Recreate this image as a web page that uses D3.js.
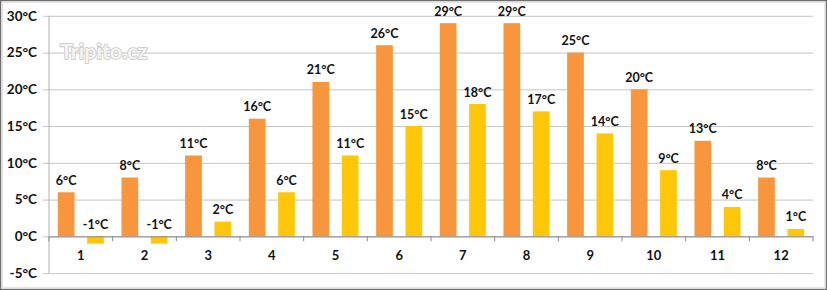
<!DOCTYPE html>
<html>
<head>
<meta charset="utf-8">
<script src="https://cdn.jsdelivr.net/npm/d3@7"></script>
<style>
  html, body { margin: 0; padding: 0; background: #fff; }
  svg { display: block; }
</style>
</head>
<body>
<script>
// monthly temperatures (day high / night low)
let months = ["1", "2", "3", "4", "5", "6", "7", "8", "9", "10", "11", "12"];
let dayTemps = [6, 8, 11, 16, 21, 26, 29, 29, 25, 20, 13, 8];
let nightTemps = [-1, -1, 2, 6, 11, 15, 18, 17, 14, 9, 4, 1];
let yTicks = [-5, 0, 5, 10, 15, 20, 25, 30];
let seriesNames = ["day", "night"];
let seriesColors = ["#F7963C", "#FFC70A"];

let width = 827, height = 290;

let svg = d3.select("body").append("svg")
	.attr("width", width)
	.attr("height", height);

// outer frame
svg.append("rect")
	.attr("x", 0.5).attr("y", 0.5)
	.attr("width", width - 1).attr("height", height - 1)
	.attr("fill", "#fff")
	.attr("stroke", "#6e6e6e")
	.attr("stroke-width", 1.5);
svg.append("rect")
	.attr("x", 2.5).attr("y", 2.5)
	.attr("width", width - 5).attr("height", height - 5)
	.attr("fill", "none")
	.attr("stroke", "#e4e4e4");

let margin = { left: 49, right: 14 };

let x0 = d3.scaleBand()
	.domain(months)
	.range([margin.left, width - margin.right]);

let x1 = d3.scaleBand()
	.domain(seriesNames)
	.range([0, x0.bandwidth()])
	.paddingInner(0.43)
	.paddingOuter(0.3);

let y = d3.scaleLinear()
	.domain([-5, 30])
	.range([273.1, 15.8]);

let color = d3.scaleOrdinal().domain(seriesNames).range(seriesColors);

// gridlines + y labels
let yAxis = d3.axisLeft(y)
	.tickValues(yTicks)
	.tickSize(-(width - margin.right - margin.left))
	.tickPadding(12)
	.tickFormat(d => d + "°C");

let gy = svg.append("g")
	.attr("transform", `translate(${margin.left},0)`)
	.call(yAxis);
gy.select(".domain").remove();
gy.selectAll(".tick line").attr("stroke", "#c4c4c4").attr("x1", -6);
gy.selectAll(".tick text")
	.attr("font-family", "Lato, 'Open Sans', sans-serif")
	.attr("font-weight", "bold")
	.attr("font-size", 13.5)
	.attr("fill", "#111");

// vertical axis line
svg.append("line")
	.attr("x1", margin.left).attr("x2", margin.left)
	.attr("y1", y(30)).attr("y2", y(-5))
	.attr("stroke", "#b0b0b0");

// watermark
svg.append("text")
	.attr("x", 60).attr("y", 59)
	.attr("font-family", "Lato, 'Open Sans', sans-serif")
	.attr("font-weight", "bold")
	.attr("font-size", 21.5)
	.attr("fill", "#f4f4f4")
	.attr("stroke", "#c8c8c8")
	.attr("stroke-width", 1.6)
	.attr("paint-order", "stroke")
	.text("Tripito.cz");

// bars
let rows = months.map((m, i) => ({ month: m, values: [
	{ key: "day", value: dayTemps[i] },
	{ key: "night", value: nightTemps[i] }
] }));

let groups = svg.selectAll("g.month")
	.data(rows)
	.enter().append("g")
	.attr("class", "month")
	.attr("transform", d => `translate(${x0(d.month)},0)`);

groups.selectAll("rect")
	.data(d => d.values)
	.enter().append("rect")
	.attr("x", d => x1(d.key))
	.attr("width", x1.bandwidth())
	.attr("y", d => y(Math.max(0, d.value)))
	.attr("height", d => Math.abs(y(d.value) - y(0)))
	.attr("fill", d => color(d.key));

groups.selectAll("text.val")
	.data(d => d.values)
	.enter().append("text")
	.attr("class", "val")
	.attr("x", d => x1(d.key) + x1.bandwidth() / 2)
	.attr("y", d => y(Math.max(0, d.value)) - 7.5)
	.attr("text-anchor", "middle")
	.attr("font-family", "Lato, 'Open Sans', sans-serif")
	.attr("font-weight", "bold")
	.attr("font-size", 12.5)
	.attr("fill", "#111")
	.text(d => d.value + "°C");

// x axis at zero
let xAxis = d3.axisBottom(x0).tickSize(0).tickPadding(14);
let gx = svg.append("g")
	.attr("transform", `translate(0,${y(0)})`)
	.call(xAxis);
gx.select(".domain").attr("stroke", "#8a8a8a");
gx.selectAll(".tick text")
	.attr("font-family", "Lato, 'Open Sans', sans-serif")
	.attr("font-weight", "bold")
	.attr("font-size", 13)
	.attr("fill", "#111");

// category boundary ticks
gx.selectAll("line.sep")
	.data(months.concat(["end"]))
	.enter().append("line")
	.attr("class", "sep")
	.attr("x1", (d, i) => margin.left + i * x0.step())
	.attr("x2", (d, i) => margin.left + i * x0.step())
	.attr("y1", 0).attr("y2", 5)
	.attr("stroke", "#8a8a8a");
</script>
</body>
</html>
